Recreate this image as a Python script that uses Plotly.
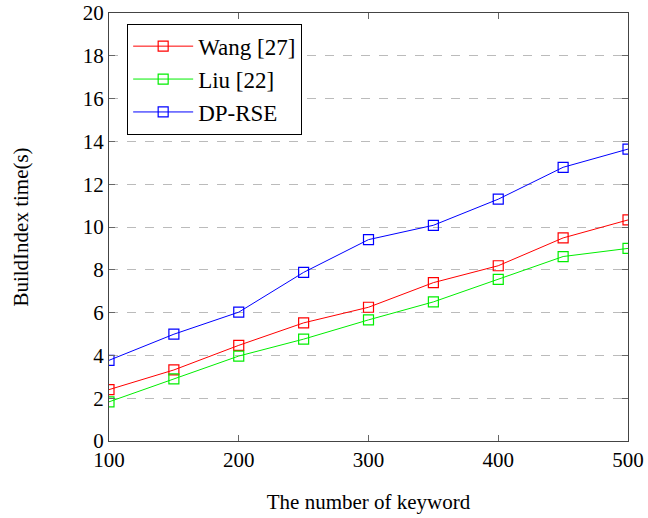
import plotly.graph_objects as go

keywords = [100, 150, 200, 250, 300, 350, 400, 450, 500]
wang = [2.40, 3.32, 4.47, 5.52, 6.25, 7.40, 8.19, 9.49, 10.33]
liu = [1.83, 2.90, 3.97, 4.76, 5.66, 6.50, 7.55, 8.62, 9.00]
dprse = [3.77, 4.99, 6.02, 7.88, 9.41, 10.08, 11.30, 12.79, 13.64]

series_names = ["Wang [27]", "Liu [22]", "DP-RSE"]
series_vals = [wang, liu, dprse]
colors = ["#ff0000", "#00ee00", "#0000ff"]

font_family = "Liberation Serif, DejaVu Serif, serif"

fig = go.Figure()
for name, vals, c in zip(series_names, series_vals, colors):
    fig.add_trace(go.Scatter(
        x=keywords, y=vals, name=name, mode="lines+markers",
        line=dict(color=c, width=1),
        marker=dict(symbol="square-open", size=10, color=c, line=dict(width=1.2, color=c)),
    ))

fig.update_layout(
    width=648, height=518,
    margin=dict(l=109, r=20, t=13, b=77, autoexpand=False),
    paper_bgcolor="white", plot_bgcolor="white",
    font=dict(family=font_family, size=21, color="black"),
    showlegend=True,
    legend=dict(
        x=0.035, y=0.975, xanchor="left", yanchor="top",
        bgcolor="white", bordercolor="black", borderwidth=1,
        font=dict(size=23, family=font_family),
        itemwidth=60, tracegroupgap=0,
    ),
    xaxis=dict(
        range=[100, 500], tickvals=[100, 200, 300, 400, 500],
        showgrid=False, zeroline=False, automargin=False,
        showline=True, linecolor="#444", linewidth=1.3, mirror="ticks",
        ticks="inside", ticklen=6, tickcolor="#666",
        tickfont=dict(size=21),
        title=dict(text="The number of keyword", font=dict(size=21), standoff=22),
    ),
    yaxis=dict(
        range=[0, 20], tickvals=list(range(0, 21, 2)),
        showgrid=True, gridcolor="#bbbbbb", griddash="dash", gridwidth=1,
        zeroline=False, automargin=False,
        showline=True, linecolor="#444", linewidth=1.3, mirror="ticks",
        ticks="inside", ticklen=6, tickcolor="#666",
        tickfont=dict(size=21),
        title=dict(text="BuildIndex time(s)", font=dict(size=21), standoff=48),
    ),
)

fig.write_html("out.html")
